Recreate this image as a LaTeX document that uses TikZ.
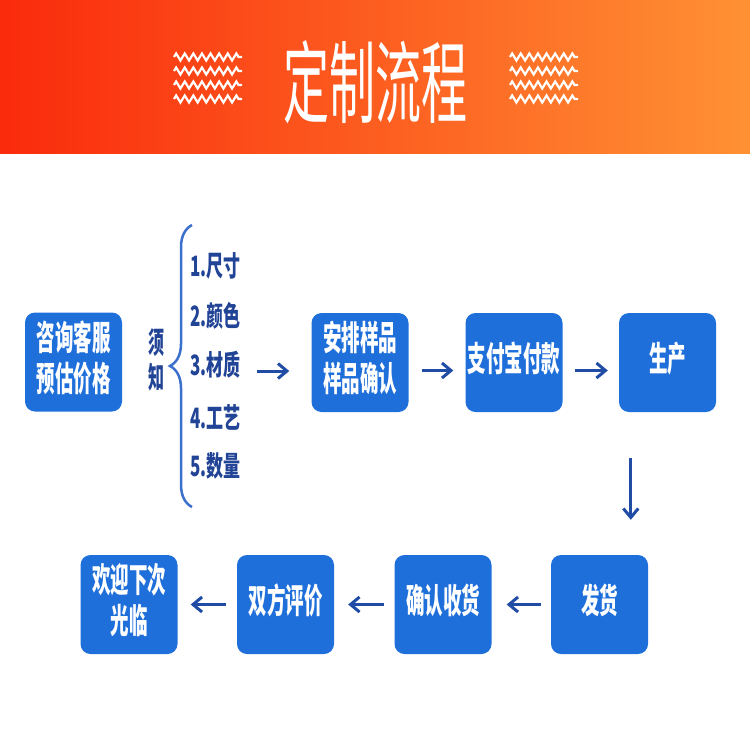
\documentclass[tikz,border=0pt]{standalone}
\usepackage{fontspec}
\newfontfamily\cjk{Noto Sans CJK SC}
\usetikzlibrary{arrows.meta,decorations.pathreplacing,decorations.pathmorphing}

\definecolor{hdleft}{RGB}{250,42,12}
\definecolor{hdmid}{RGB}{255,98,30}
\definecolor{hdright}{RGB}{255,145,52}
\definecolor{boxblue}{RGB}{31,111,219}
\definecolor{navy}{RGB}{34,68,150}
\definecolor{arrowblue}{RGB}{32,76,165}
\definecolor{braceblue}{RGB}{60,112,205}

% tall glyphs, as in the picture
\newcommand\tallbox[2][1.85]{\scalebox{1}[#1]{\begin{tabular}{@{}c@{}}#2\end{tabular}}}

\tikzset{
  stepbox/.style={rectangle, rounded corners=10pt, fill=boxblue, text=white,
    minimum width=97pt, minimum height=99pt, inner sep=0pt,
    font=\cjk\bfseries\fontsize{18.5}{21.3}\selectfont},
  item/.style={anchor=west, inner sep=0pt, text=navy,
    font=\cjk\bfseries\fontsize{17}{20}\selectfont},
  flow/.style={draw=arrowblue, line width=3pt,
    -{Straight Barb[length=9pt,width=15pt]}},
  zig/.style={draw=white, line width=2.2pt, decorate,
    decoration={zigzag, segment length=8.6pt, amplitude=3.5pt}},
}

\begin{document}
\begin{tikzpicture}[x=1pt, y=-1pt]
    \fill[white] (0,0) rectangle (750,750);
    \useasboundingbox (0,0) rectangle (750,750);

    % header
    \shade[left color=hdleft, middle color=hdmid, right color=hdright] (0,0) rectangle (750,153);
    \node[text=white, inner sep=0pt, font=\cjk\fontsize{46}{46}\selectfont] (title) at (375,82)
        {\scalebox{1}[1.95]{定制流程}};
    \foreach \r in {0,...,3} {
        \draw[zig] (174,{57+14*\r}) -- (242,{57+14*\r});
        \draw[zig] (510,{57+14*\r}) -- (578,{57+14*\r});
    }

    % upper row
    \node[stepbox] (consult) at (73.5,362) {\tallbox{咨询客服\\预估价格}};
    \node[stepbox] (sample)  at (360,362.5) {\tallbox{安排样品\\样品确认}};
    \node[stepbox] (pay)     at (514,362.5) {\tallbox{支付宝付款}};
    \node[stepbox] (produce) at (667.5,362.5) {\tallbox{生产}};

    % notes
    \node[inner sep=0pt, text=navy, font=\cjk\bfseries\fontsize{16}{16}\selectfont] (notice) at (156,363)
        {\tallbox[1.85]{须\\知}};
    \draw[braceblue, line width=2.5pt, decorate, decoration={brace, amplitude=22pt, aspect=0.5}]
        (192,507) -- (192,225);
    \foreach \y/\t [count=\i] in {269/1.尺寸, 319/2.颜色, 368/3.材质, 421/4.工艺, 469/5.数量}
        \node[item] (item\i) at (190,\y) {\tallbox[1.65]{\t}};

    % lower row
    \node[stepbox] (ship)    at (599.5,604.5) {\tallbox{发货}};
    \node[stepbox] (receive) at (443,604.5) {\tallbox{确认收货}};
    \node[stepbox] (review)  at (285.5,604.5) {\tallbox{双方评价}};
    \node[stepbox] (welcome) at (129,604.5) {\tallbox{欢迎下次\\光临}};

    % arrows
    \coordinate (listend) at (257,371);
    \draw[flow, shorten >=22pt] (listend) -- (sample.west |- listend);
    \draw[flow, shorten <=13pt, shorten >=12pt] ([yshift=-8pt]sample.east) -- ([yshift=-8pt]pay.west);
    \draw[flow, shorten <=12pt, shorten >=11pt] ([yshift=-8pt]pay.east) -- ([yshift=-8pt]produce.west);
    \draw[flow, shorten <=46pt, shorten >=35pt] ([xshift=12pt]produce.south west)
        -- ([xshift=12pt]produce.south west |- ship.north);
    \draw[flow, shorten <=10pt, shorten >=15pt] (ship.west) -- (receive.east);
    \draw[flow, shorten <=10pt, shorten >=14pt] (receive.west) -- (review.east);
    \draw[flow, shorten <=11pt, shorten >=13pt] (review.west) -- (welcome.east);
\end{tikzpicture}
\end{document}
